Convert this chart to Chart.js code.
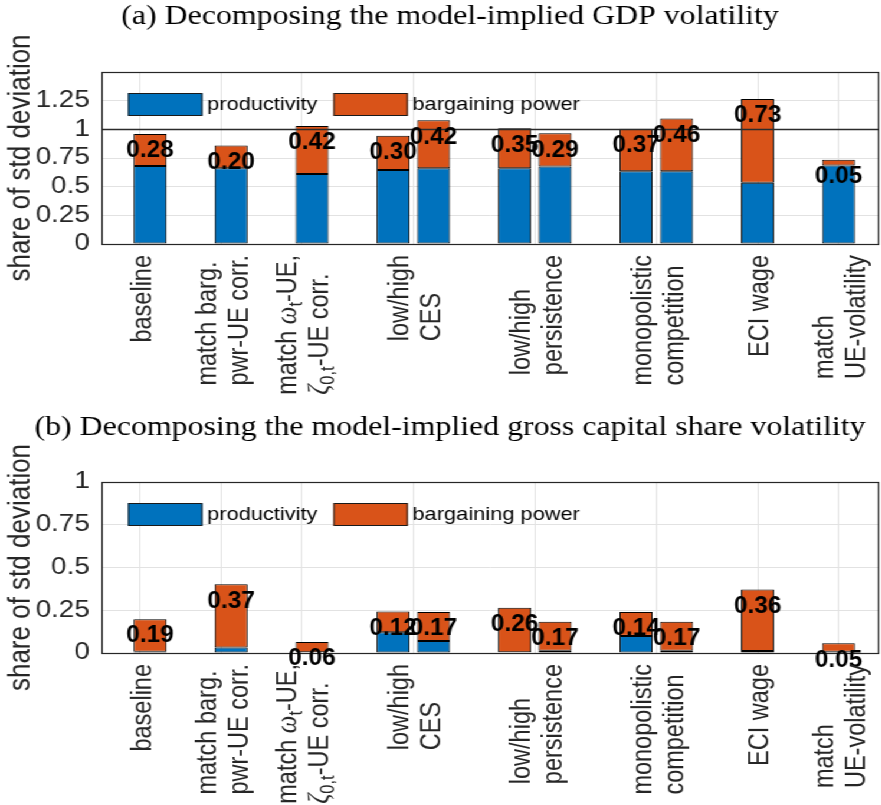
<!DOCTYPE html>
<html>
<head>
<meta charset="utf-8">
<script src="https://cdn.jsdelivr.net/npm/chart.js@4.4.1/dist/chart.umd.min.js"></script>
<style>
  html, body { margin: 0; padding: 0; background: #fff; overflow: hidden; }
  #wrap { width: 747px; transform: scaleX(1.18); transform-origin: 0 0; }
  canvas { display: block; }
</style>
</head>
<body>
<div id="wrap">
  <canvas id="gdp" width="747" height="400"></canvas>
  <canvas id="cap" width="747" height="405"></canvas>
</div>
<script>
// ---- data ----
const barPositions = [1, 2, 3, 4, 4.5, 5.5, 6, 7, 7.5, 8.5, 9.5];

// (a) GDP volatility shares
const gdpProductivity = [0.68, 0.66, 0.61, 0.645, 0.66, 0.66, 0.675, 0.635, 0.635, 0.535, 0.685];
const gdpBargaining   = [0.28, 0.20, 0.42, 0.30, 0.42, 0.35, 0.29, 0.37, 0.46, 0.73, 0.05];

// (b) gross capital share volatility shares
const capProductivity = [0.008, 0.032, 0.005, 0.122, 0.07, 0.005, 0.013, 0.10, 0.013, 0.012, 0.007];
const capBargaining   = [0.19, 0.37, 0.06, 0.12, 0.17, 0.26, 0.17, 0.14, 0.17, 0.36, 0.05];

const tickPositions = [0.875, 1.875, 2.875, 4.25, 5.75, 7.25, 8.5, 9.5];
const tickLabels = [
  ['baseline'],
  ['match barg.', 'pwr-UE corr.'],
  ['match ω_{t}-UE,', 'ζ_{0,t}-UE corr.'],
  ['low/high', 'CES'],
  ['low/high', 'persistence'],
  ['monopolistic', 'competition'],
  ['ECI wage'],
  ['match', 'UE-volatility']
];
const gdpYTicks = [0, 0.25, 0.5, 0.75, 1, 1.25];
const capYTicks = [0, 0.25, 0.5, 0.75, 1];

const seriesNames  = ['productivity', 'bargaining power'];
const seriesColors = ['#0072BD', '#D95319'];
const panelTitles = [
  '(a) Decomposing the model-implied GDP volatility',
  '(b) Decomposing the model-implied gross capital share volatility'
];
const yAxisTitle = 'share of std deviation';

// ---- styling ----
const SANS = "'Liberation Sans', Arial, Helvetica, sans-serif";
const SERIF = "'Liberation Serif', 'Times New Roman', serif";
const AXIS_COLOR = '#262626';
const GRID_COLOR = '#e2e2e2';

// splits "match ω_{t}-UE," into plain / greek / subscript runs
function parseRich(str) {
  const segs = [];
  let buf = '';
  let i = 0;
  const flush = () => { if (buf) { segs.push({ t: buf, k: 'n' }); buf = ''; } };
  while (i < str.length) {
    const c = str[i];
    if (c === '_') {
      flush();
      let sub;
      if (str[i + 1] === '{') {
        const j = str.indexOf('}', i);
        sub = str.slice(i + 2, j);
        i = j + 1;
      } else {
        sub = str[i + 1];
        i += 2;
      }
      segs.push({ t: sub, k: 's' });
      continue;
    }
    if ('ωζ'.includes(c)) {
      flush();
      segs.push({ t: c, k: 'g' });
      i++;
      continue;
    }
    buf += c;
    i++;
  }
  flush();
  return segs;
}

const segFont = {
  n: '23.5px ' + SANS,
  g: 'italic 25px ' + SERIF,
  s: '16.5px ' + SANS
};
const segShift = { n: 0, g: 0, s: 7 };

function richWidth(ctx, segs) {
  let w = 0;
  for (const s of segs) { ctx.font = segFont[s.k]; w += ctx.measureText(s.t).width; }
  return w;
}

// axis box, reference line, in-axes legend, value labels and category labels
const panelDecor = {
  id: 'panelDecor',
  afterDraw(chart, args, opts) {
    const { ctx, chartArea: a, scales } = chart;
    const xs = scales.x, ys = scales.y;
    ctx.save();

    // reference level
    if (opts.refLevel !== undefined) {
      const yr = Math.round(ys.getPixelForValue(opts.refLevel)) + 0.5;
      ctx.strokeStyle = '#2b2b2b';
      ctx.lineWidth = 1.6;
      ctx.beginPath();
      ctx.moveTo(a.left, yr);
      ctx.lineTo(a.right, yr);
      ctx.stroke();
    }

    // axes box
    ctx.strokeStyle = AXIS_COLOR;
    ctx.lineWidth = 1.2;
    ctx.strokeRect(a.left + 0.5, a.top + 0.5, a.right - a.left - 1, a.bottom - a.top);

    // legend inside the axes
    let lx = a.left + 22.5;
    const ly = a.top + 21;
    const sw = 63, sh = 23;
    ctx.font = '18.5px ' + SANS;
    ctx.textBaseline = 'middle';
    ctx.textAlign = 'left';
    chart.data.datasets.forEach(ds => {
      ctx.fillStyle = ds.backgroundColor;
      ctx.fillRect(lx, ly, sw, sh);
      ctx.strokeStyle = '#1a1a1a';
      ctx.lineWidth = 1;
      ctx.strokeRect(lx + 0.5, ly + 0.5, sw - 1, sh - 1);
      ctx.fillStyle = '#000';
      ctx.fillText(ds.label, lx + sw + 4, ly + sh / 2 + 0.5);
      lx += sw + 4 + ctx.measureText(ds.label).width + 13.5;
    });

    // value labels: bargaining-power share, hung from the top of each stack
    const topMeta = chart.getDatasetMeta(1);
    const topData = chart.data.datasets[1].data;
    ctx.fillStyle = '#000';
    ctx.font = 'bold 23px ' + SANS;
    ctx.textAlign = 'center';
    ctx.textBaseline = 'middle';
    topMeta.data.forEach((el, i) => {
      ctx.save();
      ctx.translate(el.x, el.y + 17);
      ctx.scale(0.9, 1);
      ctx.fillText(topData[i].y.toFixed(2), 0, 0);
      ctx.restore();
    });

    // rotated category labels, lines left-aligned, block ending near the axis
    ctx.fillStyle = AXIS_COLOR;
    ctx.textAlign = 'left';
    ctx.textBaseline = 'middle';
    const lineGap = 27;
    xs.ticks.forEach((tk, i) => {
      const lines = (tickLabels[i] || []).map(parseRich);
      const widths = lines.map(l => richWidth(ctx, l));
      const maxW = Math.max(...widths);
      const px = xs.getPixelForValue(tk.value) + 2.5;
      ctx.save();
      ctx.translate(px, a.bottom + 11);
      ctx.rotate(-Math.PI / 2);
      lines.forEach((segs, li) => {
        const yl = (li - (lines.length - 1) / 2) * lineGap;
        let xl = -maxW;
        segs.forEach(s => {
          ctx.font = segFont[s.k];
          ctx.fillText(s.t, xl, yl + segShift[s.k]);
          xl += ctx.measureText(s.t).width;
        });
      });
      ctx.restore();
    });

    ctx.restore();
  }
};

function buildPanel(canvasId, cfg) {
  const mk = (vals) => barPositions.map((x, i) => ({ x: x, y: vals[i] }));
  const barStyle = {
    borderColor: '#000',
    borderWidth: 1,
    borderSkipped: false,
    categoryPercentage: 1,
    barPercentage: 0.816
  };
  return new Chart(document.getElementById(canvasId), {
    type: 'bar',
    data: {
      datasets: [
        Object.assign({ label: seriesNames[0], data: mk(cfg.prod), backgroundColor: seriesColors[0] }, barStyle),
        Object.assign({ label: seriesNames[1], data: mk(cfg.barg), backgroundColor: seriesColors[1] }, barStyle)
      ]
    },
    options: {
      responsive: false,
      animation: false,
      events: [],
      devicePixelRatio: 1,
      layout: { padding: { left: 17.8, right: 2, top: 0, bottom: 0 } },
      plugins: {
        legend: { display: false },
        tooltip: { enabled: false },
        title: {
          display: true,
          text: cfg.title,
          color: '#000',
          font: { family: SERIF, size: 27, weight: 'normal', lineHeight: 1 },
          padding: { top: cfg.titleTop, bottom: cfg.titleBottom }
        },
        panelDecor: { refLevel: cfg.refLevel }
      },
      scales: {
        x: {
          type: 'linear',
          offset: false,
          min: 0.4,
          max: 10,
          stacked: true,
          afterBuildTicks(s) { s.ticks = tickPositions.map(v => ({ value: v })); },
          ticks: { display: false },
          grid: { color: GRID_COLOR, lineWidth: 1, drawTicks: false, offset: false },
          border: { display: false },
          afterFit(s) { s.height = cfg.xAxisHeight; }
        },
        y: {
          min: 0,
          max: cfg.yMax,
          stacked: true,
          afterBuildTicks(s) { s.ticks = cfg.yTicks.concat(cfg.yMax > cfg.yTicks[cfg.yTicks.length - 1] ? [cfg.yMax] : []).map(v => ({ value: v })); },
          ticks: {
            autoSkip: false,
            padding: 10,
            color: AXIS_COLOR,
            font: { family: SANS, size: 23.5 },
            callback: (v) => cfg.yTicks.includes(v) ? String(v) : ''
          },
          grid: { color: GRID_COLOR, lineWidth: 1, drawTicks: false },
          border: { display: false },
          title: {
            display: true,
            text: yAxisTitle,
            color: AXIS_COLOR,
            font: { family: SANS, size: 26, lineHeight: 1 },
            padding: { top: -13, bottom: 0 }
          },
          afterFit(s) { s.width = 68.2; }
        }
      }
    },
    plugins: [panelDecor]
  });
}

buildPanel('gdp', {
  prod: gdpProductivity,
  barg: gdpBargaining,
  title: panelTitles[0],
  yMax: 1.5,
  yTicks: gdpYTicks,
  refLevel: 1,
  titleTop: 3,
  titleBottom: 42,
  xAxisHeight: 156
});

buildPanel('cap', {
  prod: capProductivity,
  barg: capBargaining,
  title: panelTitles[1],
  yMax: 1,
  yTicks: capYTicks,
  refLevel: undefined,
  titleTop: 14,
  titleBottom: 41,
  xAxisHeight: 152
});
</script>
</body>
</html>
